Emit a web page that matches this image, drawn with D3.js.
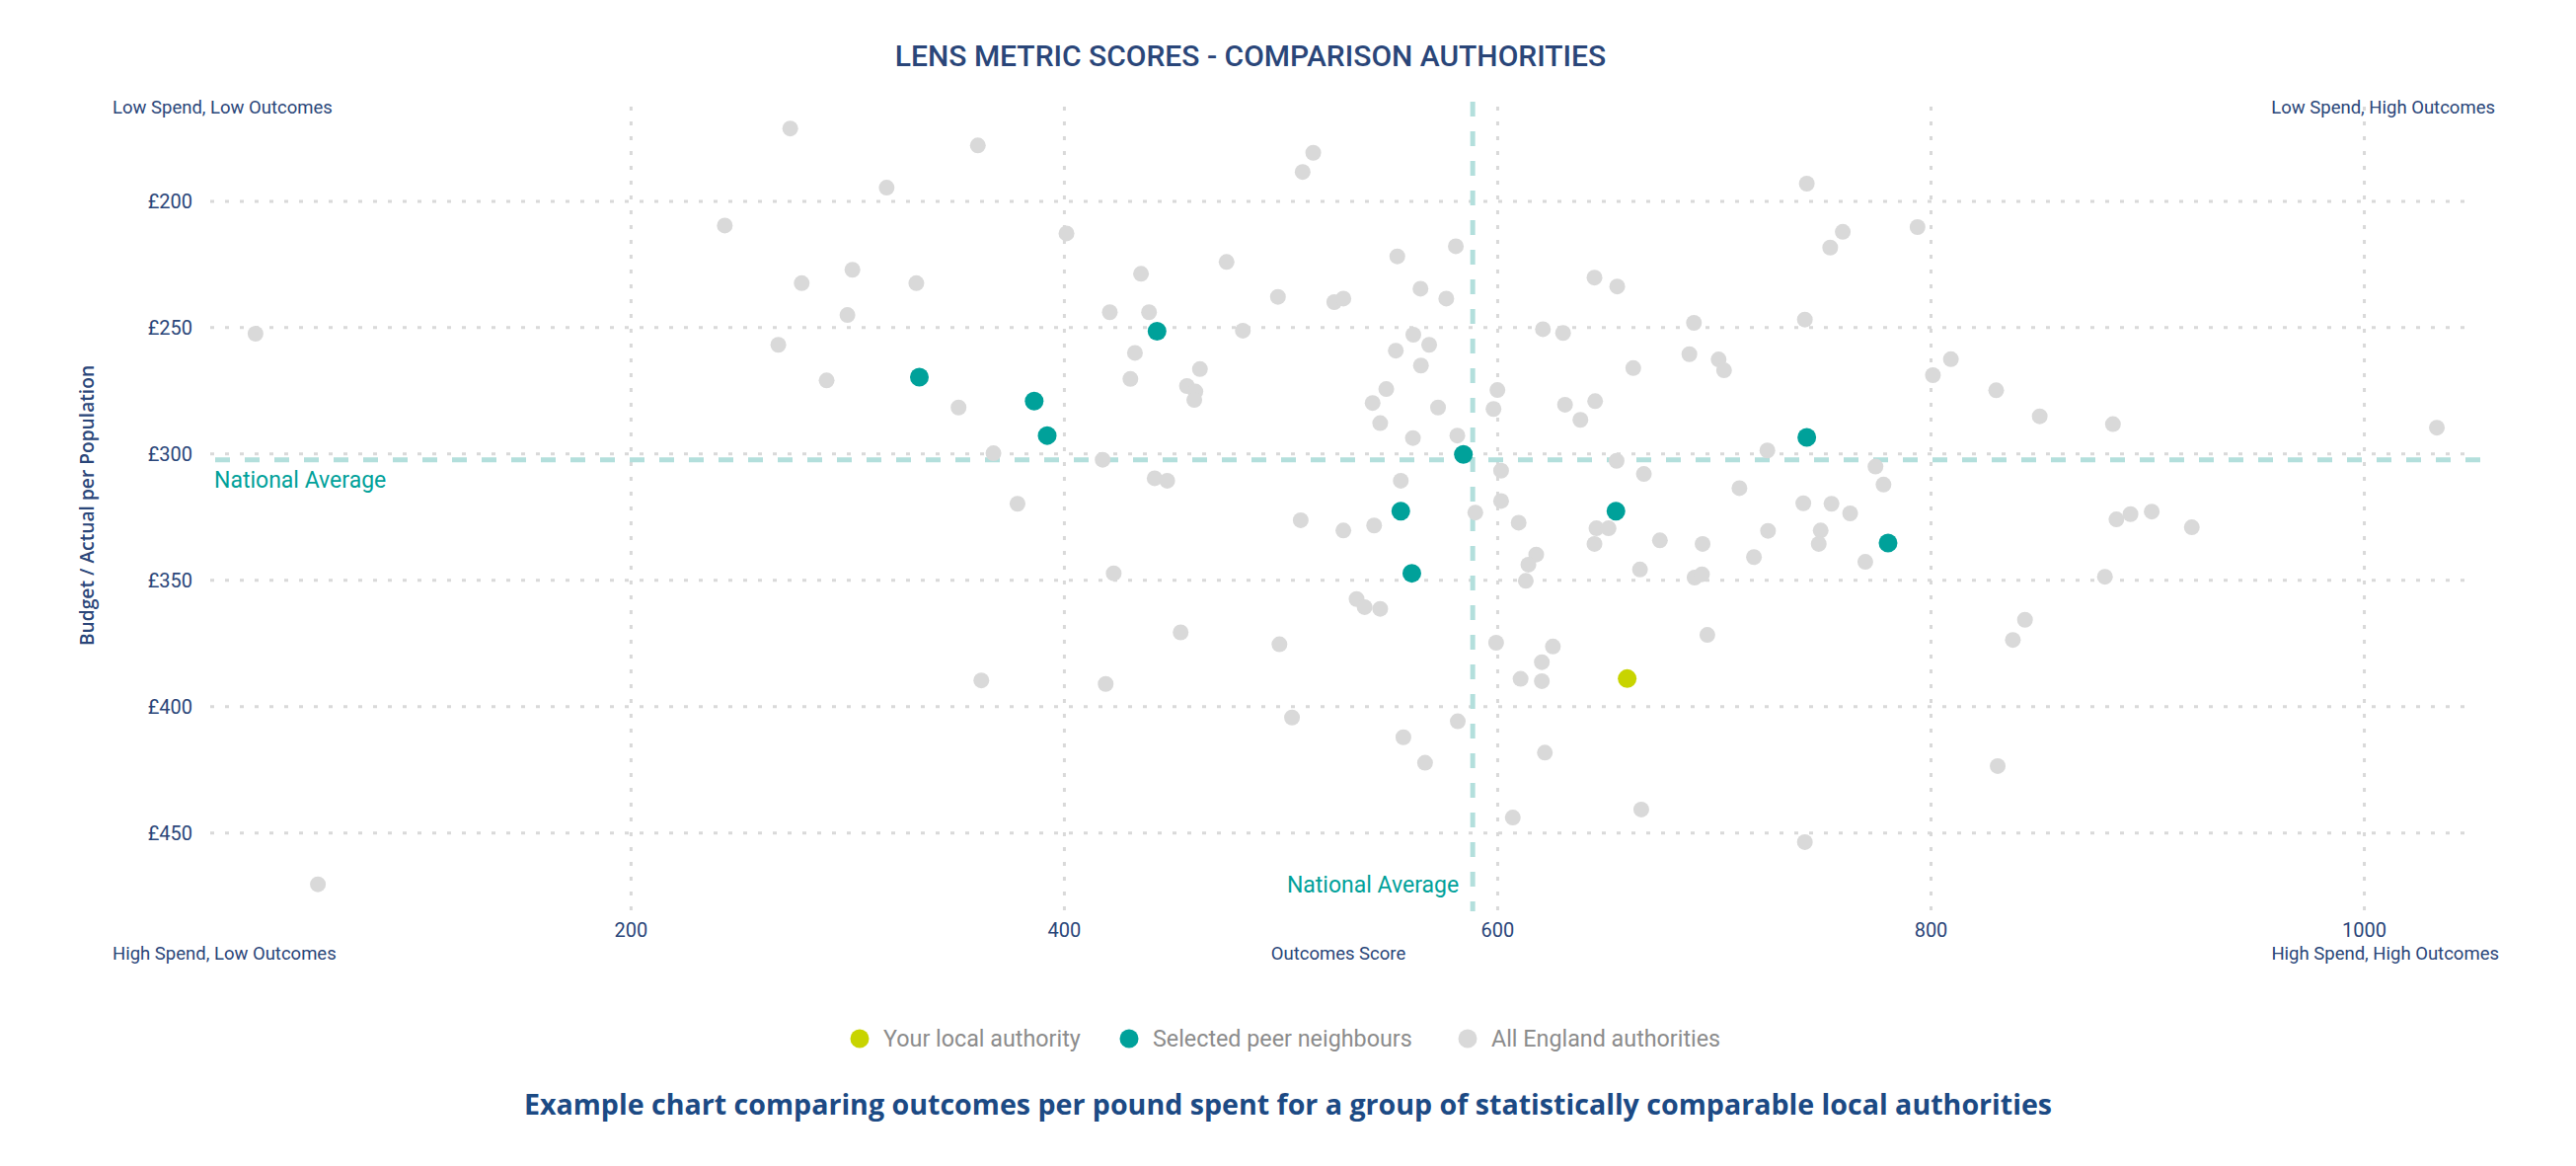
<!DOCTYPE html>
<html>
<head>
<meta charset="utf-8">
<script src="https://cdn.jsdelivr.net/npm/d3@7"></script>
<style>
  body { margin: 0; background: #fff; }
  svg { display: block; font-family: Roboto, "DejaVu Sans", sans-serif; }
</style>
</head>
<body>
<svg id="chart" width="2610" height="1181"></svg>
<script>
// outcomes score (x) and budget per population (y)
const englandOutcomes = [273.7, 243.5, 279, 300.1, 302.4, 26.9, 268.2, 290.5, 360.3, 318.2,
    515.1, 510.2, 401.2, 331.9, 351.4, 367.5, 417.9, 378.6, 423, 421.2,
    435.6, 439.3, 432.8, 430.7, 462.8, 456.8, 460.7, 460.2, 475.1, 482.6,
    498.8, 524.8, 529, 441.9, 447.7, 553.9, 580.9, 564.6, 576.5, 561.3,
    568.6, 553.2, 564.8, 548.8, 542.5, 546, 572.7, 561.1, 581.6, 555.5,
    509.3, 529, 543.2, 589.9, 600.1, 598.3, 601.8, 601.8, 609.9, 618,
    614.4, 613.2, 621.1, 630.4, 631.3, 742.9, 759.5, 753.7, 794, 644.9,
    655.4, 690.8, 742, 688.7, 702.2, 704.7, 662.8, 645.2, 638.4, 724.7,
    655.1, 667.7, 774.6, 778.3, 711.8, 801.1, 809.4, 830.3, 850.4, 884.2,
    1033.7, 645.8, 651.4, 644.9, 675.1, 694.8, 725, 741.3, 754.3, 762.9,
    749.3, 748.4, 718.5, 769.9, 665.9, 691.1, 694.5, 885.8, 892.3, 902.1,
    920.6, 880.5, 55.7, 535.1, 538.8, 546, 453.9, 499.5, 361.9, 419.3,
    599.5, 625.7, 620.6, 610.8, 620.6, 505.3, 581.8, 556.7, 566.7, 622,
    607.2, 697, 666.5, 742, 843.6, 838, 831];
const englandSpend = [171.4, 209.8, 232.6, 245.2, 227.3, 252.6, 257, 271.1, 178.1, 194.8,
    181, 188.6, 212.9, 232.6, 281.8, 299.9, 302.5, 319.9, 347.4, 244.1,
    228.9, 244.1, 260.2, 270.5, 266.6, 273.3, 275.5, 278.8, 224.2, 251.4,
    238, 240.1, 238.7, 309.8, 310.8, 222, 218, 234.8, 238.7, 253,
    257, 259.3, 265.2, 274.5, 280, 288, 281.8, 293.9, 292.9, 310.8,
    326.4, 330.5, 328.5, 323.4, 274.9, 282.4, 306.8, 318.8, 327.4, 340,
    344, 350.4, 250.8, 252.3, 280.7, 193.2, 212.3, 218.5, 210.4, 230.4,
    233.9, 248.3, 247, 260.7, 262.8, 267.1, 266.2, 279.3, 286.7, 298.8,
    302.9, 308.1, 305.2, 312.3, 313.7, 269, 262.7, 275, 285.3, 288.4,
    289.8, 329.6, 329.6, 335.8, 334.4, 335.8, 330.6, 319.7, 319.9, 323.7,
    330.5, 335.8, 341, 342.9, 345.9, 349.1, 347.8, 326.1, 324, 323,
    329.2, 348.8, 470.5, 357.6, 360.8, 361.5, 370.8, 375.5, 389.8, 391.2,
    374.9, 376.4, 382.6, 389.2, 390.1, 404.5, 406, 412.3, 422.4, 418.4,
    444.1, 371.8, 440.9, 453.8, 365.8, 373.8, 423.7];

const peerOutcomes = [333.3, 386.3, 392.3, 443, 584.4, 555.5, 560.6, 654.8, 742.9, 780.4];
const peerSpend = [269.8, 279.3, 292.9, 251.6, 300.4, 322.8, 347.4, 322.8, 293.6, 335.4];

const localOutcomes = [660];
const localSpend = [389.1];

const nationalOutcome = 588.7;
const nationalSpend = 302.5;

const xTicks = [200, 400, 600, 800, 1000];
const yTicks = [200, 250, 300, 350, 400, 450];

const seriesNames = ["Your local authority", "Selected peer neighbours", "All England authorities"];
const seriesColors = ["#c8d400", "#00a19a", "#d9d9d9"];

const Colors = {
    navy: "#2a4679",
    caption: "#1c4a84",
    grid: "#d9d9d9",
    avgLine: "#b3dfdc",
    avgText: "#00a19a",
    legendText: "#8c8c8c"
};

const svg = d3.select("#chart");

const x = d3.scaleLinear().domain([6, 1051]).range([213, 2507]);
const y = d3.scaleLinear().domain([160, 480]).range([101, 920]);
const [plotLeft, plotRight] = x.range();
const [plotTop, plotBottom] = y.range();

// title
svg.append("text")
    .attr("x", 1267)
    .attr("y", 67)
    .attr("text-anchor", "middle")
    .attr("font-size", 30)
    .attr("font-weight", 500)
    .attr("fill", Colors.navy)
    .text("LENS METRIC SCORES - COMPARISON AUTHORITIES");

// dotted grid, vertical
svg.append("g")
    .attr("class", "chart-grid")
    .attr("transform", `translate(0,${plotBottom + 2})`)
    .call(d3.axisBottom(x).tickValues(xTicks).tickSize(-(plotBottom - plotTop + 2)).tickFormat(""))
    .call(g => g.select(".domain").remove())
    .selectAll("line")
    .attr("stroke", Colors.grid)
    .attr("stroke-width", 3)
    .attr("stroke-dasharray", "4,11");

// dotted grid, horizontal
svg.append("g")
    .attr("class", "chart-grid")
    .attr("transform", `translate(${plotLeft},0)`)
    .call(d3.axisLeft(y).tickValues(yTicks).tickSize(-(plotRight - plotLeft)).tickFormat(""))
    .call(g => g.select(".domain").remove())
    .selectAll("line")
    .attr("stroke", Colors.grid)
    .attr("stroke-width", 3)
    .attr("stroke-dasharray", "4,11");

// tick labels
svg.append("g")
    .attr("transform", `translate(0,${plotBottom})`)
    .call(d3.axisBottom(x).tickValues(xTicks).tickSize(0).tickPadding(15).tickFormat(d3.format("d")))
    .call(g => g.select(".domain").remove())
    .selectAll("text")
    .style("font-family", "Roboto")
    .attr("font-size", 20)
    .attr("fill", Colors.navy);

svg.append("g")
    .attr("transform", `translate(${plotLeft},0)`)
    .call(d3.axisLeft(y).tickValues(yTicks).tickSize(0).tickPadding(18).tickFormat(d => "£" + d))
    .call(g => g.select(".domain").remove())
    .selectAll("text")
    .attr("dy", "0.38em")
    .style("font-family", "Roboto")
    .attr("font-size", 20)
    .attr("fill", Colors.navy);

// axis titles
svg.append("text")
    .attr("transform", "translate(95,512) rotate(-90)")
    .attr("text-anchor", "middle")
    .style("font-family", "'Open Sans', sans-serif")
    .attr("font-weight", 600)
    .attr("font-size", 19.2)
    .attr("fill", Colors.navy)
    .text("Budget / Actual per Population");

svg.append("text")
    .attr("x", 1356)
    .attr("y", 972)
    .attr("text-anchor", "middle")
    .attr("font-size", 18.5)
    .attr("fill", Colors.navy)
    .text("Outcomes Score");

// quadrant labels
const corners = [
    { label: "Low Spend, Low Outcomes", x: 114, y: 115, anchor: "start" },
    { label: "Low Spend, High Outcomes", x: 2528, y: 115, anchor: "end" },
    { label: "High Spend, Low Outcomes", x: 114, y: 972, anchor: "start" },
    { label: "High Spend, High Outcomes", x: 2532, y: 972, anchor: "end" }
];
svg.append("g").selectAll("text")
    .data(corners)
    .join("text")
    .attr("x", d => d.x)
    .attr("y", d => d.y)
    .attr("text-anchor", d => d.anchor)
    .attr("font-size", 18.5)
    .attr("fill", Colors.navy)
    .text(d => d.label);

// national average lines
svg.append("line")
    .attr("x1", plotLeft + 5)
    .attr("x2", plotRight + 6)
    .attr("y1", y(nationalSpend))
    .attr("y2", y(nationalSpend))
    .attr("stroke", Colors.avgLine)
    .attr("stroke-width", 5)
    .attr("stroke-dasharray", "15,15");

svg.append("line")
    .attr("x1", x(nationalOutcome))
    .attr("x2", x(nationalOutcome))
    .attr("y1", plotTop + 2)
    .attr("y2", plotBottom + 3)
    .attr("stroke", Colors.avgLine)
    .attr("stroke-width", 5)
    .attr("stroke-dasharray", "15,15");

svg.append("text")
    .attr("x", plotLeft + 4)
    .attr("y", y(nationalSpend) + 28)
    .attr("font-size", 23)
    .attr("fill", Colors.avgText)
    .text("National Average");

svg.append("text")
    .attr("x", x(nationalOutcome) - 14)
    .attr("y", 904)
    .attr("text-anchor", "end")
    .attr("font-size", 23)
    .attr("fill", Colors.avgText)
    .text("National Average");

// points: all england, then peers, then local authority on top
const points = svg.append("g");

points.selectAll(".england")
    .data(d3.zip(englandOutcomes, englandSpend))
    .join("circle")
    .attr("class", "england")
    .attr("cx", d => x(d[0]))
    .attr("cy", d => y(d[1]))
    .attr("r", 8)
    .attr("fill", seriesColors[2]);

points.selectAll(".peer")
    .data(d3.zip(peerOutcomes, peerSpend))
    .join("circle")
    .attr("class", "peer")
    .attr("cx", d => x(d[0]))
    .attr("cy", d => y(d[1]))
    .attr("r", 9.5)
    .attr("fill", seriesColors[1]);

points.selectAll(".local")
    .data(d3.zip(localOutcomes, localSpend))
    .join("circle")
    .attr("class", "local")
    .attr("cx", d => x(d[0]))
    .attr("cy", d => y(d[1]))
    .attr("r", 9.5)
    .attr("fill", seriesColors[0]);

// legend
const legendX = [871, 1144, 1487];
const legend = svg.append("g")
    .selectAll("g")
    .data(seriesNames)
    .join("g")
    .attr("transform", (d, i) => `translate(${legendX[i]},1052)`);

legend.append("circle")
    .attr("r", 9.5)
    .attr("fill", (d, i) => seriesColors[i]);

legend.append("text")
    .attr("x", 24)
    .attr("dy", "0.35em")
    .attr("font-size", 23.3)
    .attr("fill", Colors.legendText)
    .text(d => d);

// caption
svg.append("text")
    .attr("x", 1305)
    .attr("y", 1129)
    .attr("text-anchor", "middle")
    .style("font-family", "'Open Sans', sans-serif")
    .attr("font-weight", 700)
    .attr("font-size", 28.6)
    .attr("fill", Colors.caption)
    .text("Example chart comparing outcomes per pound spent for a group of statistically comparable local authorities");
</script>
</body>
</html>
